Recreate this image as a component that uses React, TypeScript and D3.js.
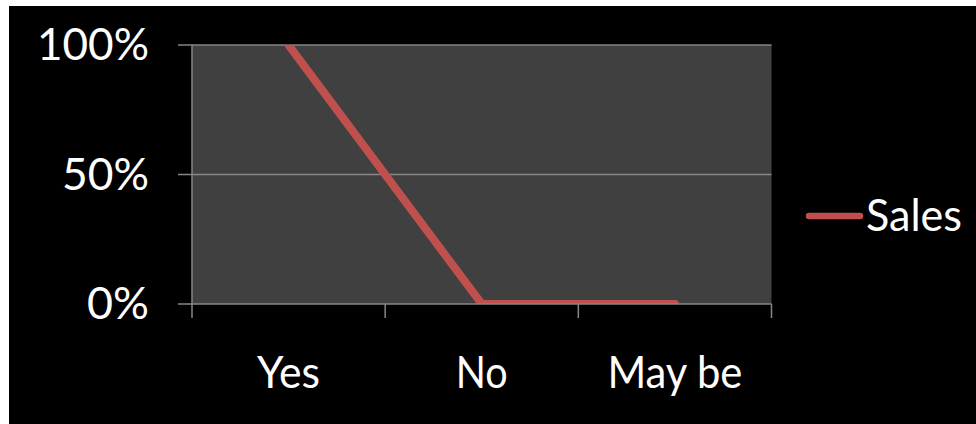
import React from "react";
import * as d3 from "d3";

// Survey answers and their share of sales
const categories = ["Yes", "No", "May be"];
const salesValues = [1.0, 0.0, 0.0];
const yTicks = [0, 0.5, 1];
const yTickLabels = ["0%", "50%", "100%"];
const seriesName = "Sales";

const W = 976;
const H = 424;
const plot = { left: 192, right: 771.5, top: 45, bottom: 304 };

const FONT = "Lato, 'Open Sans', sans-serif";
const RED = "#C0504D";
const GRID = "#868686";

// label widths keep the condensed look of the original typeface
const yLabelWidth: Record<string, number> = { "0%": 62, "50%": 87, "100%": 112 };
const xLabelWidth: Record<string, number> = { Yes: 63, No: 52, "May be": 135 };

export default function App() {
  const x = d3
    .scaleBand<string>()
    .domain(categories)
    .range([plot.left, plot.right])
    .paddingInner(0)
    .paddingOuter(0);
  const y = d3.scaleLinear().domain([0, 1]).range([plot.bottom, plot.top]);

  const points: [number, number][] = categories.map((c, i) => [
    (x(c) as number) + x.bandwidth() / 2,
    y(salesValues[i]),
  ]);
  const linePath = d3.line()(points) as string;

  const boundaries = [...categories.map((c) => x(c) as number), plot.right];

  return (
    <svg
      width={W}
      height={H}
      style={{ position: "absolute", left: 0, top: 0, display: "block" }}
    >
      <defs>
        <clipPath id="plot-clip">
          <rect
            x={plot.left}
            y={plot.top}
            width={plot.right - plot.left}
            height={plot.bottom - plot.top}
          />
        </clipPath>
      </defs>
      <rect x={0} y={0} width={W} height={H} fill="#ffffff" />
      <rect x={9} y={6} width={W - 9} height={H - 6} fill="#000000" />

      {/* plot area */}
      <rect
        x={plot.left}
        y={plot.top}
        width={plot.right - plot.left}
        height={plot.bottom - plot.top}
        fill="#404040"
      />

      {/* horizontal gridlines and y ticks */}
      {yTicks.map((t) => (
        <line
          key={t}
          x1={plot.left - 14}
          x2={t === 0 ? plot.left : plot.right}
          y1={y(t)}
          y2={y(t)}
          stroke={GRID}
          strokeWidth={1.5}
        />
      ))}

      {/* sales line */}
      <path
        d={linePath}
        fill="none"
        stroke={RED}
        strokeWidth={8}
        strokeLinecap="round"
        strokeLinejoin="round"
        clipPath="url(#plot-clip)"
      />

      {/* axes */}
      <line
        x1={plot.left}
        x2={plot.right}
        y1={plot.bottom}
        y2={plot.bottom}
        stroke={GRID}
        strokeWidth={1.5}
      />
      <line
        x1={plot.left}
        x2={plot.left}
        y1={plot.top}
        y2={plot.bottom}
        stroke={GRID}
        strokeWidth={1.5}
      />
      {boundaries.map((bx, i) => (
        <line
          key={i}
          x1={bx}
          x2={bx}
          y1={plot.bottom}
          y2={plot.bottom + 14}
          stroke={GRID}
          strokeWidth={1.5}
        />
      ))}

      {/* y tick labels */}
      {yTicks.map((t, i) => (
        <text
          key={t}
          x={149}
          y={y(t) + 15}
          textAnchor="end"
          fill="#ffffff"
          fontFamily={FONT}
          fontSize={44}
          textLength={yLabelWidth[yTickLabels[i]]}
          lengthAdjust="spacingAndGlyphs"
        >
          {yTickLabels[i]}
        </text>
      ))}

      {/* x tick labels */}
      {categories.map((c) => (
        <text
          key={c}
          x={(x(c) as number) + x.bandwidth() / 2}
          y={388}
          textAnchor="middle"
          fill="#ffffff"
          fontFamily={FONT}
          fontSize={44}
          textLength={xLabelWidth[c]}
          lengthAdjust="spacingAndGlyphs"
        >
          {c}
        </text>
      ))}

      {/* legend */}
      <line
        x1={809}
        x2={860}
        y1={216}
        y2={216}
        stroke={RED}
        strokeWidth={6.5}
        strokeLinecap="round"
      />
      <text
        x={866}
        y={231}
        fill="#ffffff"
        fontFamily={FONT}
        fontSize={44}
        textLength={96}
        lengthAdjust="spacingAndGlyphs"
      >
        {seriesName}
      </text>
    </svg>
  );
}
